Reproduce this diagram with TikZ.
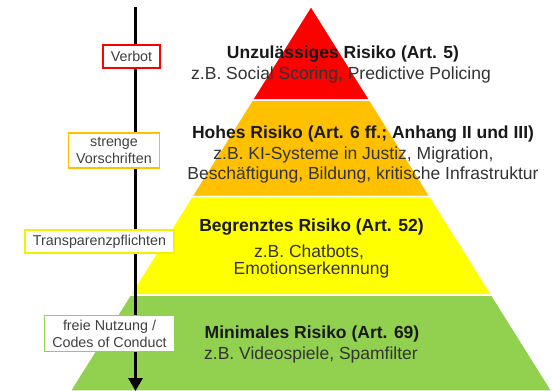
\documentclass[tikz,border=0pt]{standalone}
\usepackage{fontspec}
\setmainfont{Liberation Sans}
\usetikzlibrary{arrows.meta}

\definecolor{riskred}{HTML}{FF0000}
\definecolor{riskorange}{HTML}{FFC000}
\definecolor{riskyellow}{HTML}{FFFF00}
\definecolor{riskgreen}{HTML}{92D050}
\definecolor{boxyellow}{HTML}{F2F200}
\definecolor{textgray}{HTML}{333333}

\begin{document}
\begin{tikzpicture}[x=1pt,y=-1pt,
    level/.style={anchor=base,font=\fontsize{17.5}{20}\selectfont\bfseries,text=black!90},
    example/.style={anchor=base,font=\fontsize{17.5}{20}\selectfont,text=textgray},
    rulebox/.style={draw=#1,fill=white,line width=1.4pt,align=center,
      inner xsep=8pt,inner ysep=4.5pt,minimum height=23pt,
      font=\fontsize{14.3}{17}\selectfont,text=black!75}]
    \useasboundingbox (0,0) rectangle (552,391);

    % Draw pyramid
    \foreach \ya/\yb/\col in {6/100/riskred,100/196.5/riskorange,196.5/295/riskyellow,295/391/riskgreen}{
      \pgfmathsetmacro\wa{0.62597*(\ya-6)}
      \pgfmathsetmacro\wb{0.62597*(\yb-6)}
      \fill[\col,draw=white,line width=1.5pt] (311-\wa,\ya) -- (311+\wa,\ya) -- (311+\wb,\yb) -- (311-\wb,\yb) -- cycle;
    }

    % Draw arrow
    \coordinate (top) at (135.5,7);
    \coordinate (bot) at (135.5,391);
    \draw[line width=3pt,-{Triangle[length=13pt,width=14pt]}] (top) -- (bot);

    % Rule boxes
    \node[rulebox=riskred] (verbot) at (131.5,56.5) {Verbot};
    \node[rulebox=riskorange] (streng) at (114,150.5) {strenge\\Vorschriften};
    \node[rulebox=boxyellow] (transp) at (99.5,241.5) {Transparenzpflichten};
    \node[rulebox=riskgreen] (frei) at (109.5,333.5) {freie Nutzung /\\Codes of Conduct};

    % Risk levels
    \node[level] (t1) at (343,58) {Unzulässiges Risiko (Art. 5)};
    \node[example] (e1) at (341,79) {z.B. Social Scoring, Predictive Policing};
    \node[level] (t2) at (363,138) {Hohes Risiko (Art. 6 ff.; Anhang II und III)};
    \node[example] (e2a) at (353.5,159) {z.B. KI-Systeme in Justiz, Migration,};
    \node[example] (e2b) at (363,179) {Beschäftigung, Bildung, kritische Infrastruktur};
    \node[level] (t3) at (311.5,231) {Begrenztes Risiko (Art. 52)};
    \node[example] (e3a) at (309,257) {z.B. Chatbots,};
    \node[example] (e3b) at (311.5,274) {Emotionserkennung};
    \node[level] (t4) at (312,338) {Minimales Risiko (Art. 69)};
    \node[example] (e4) at (311,359) {z.B. Videospiele, Spamfilter};
\end{tikzpicture}
\end{document}
